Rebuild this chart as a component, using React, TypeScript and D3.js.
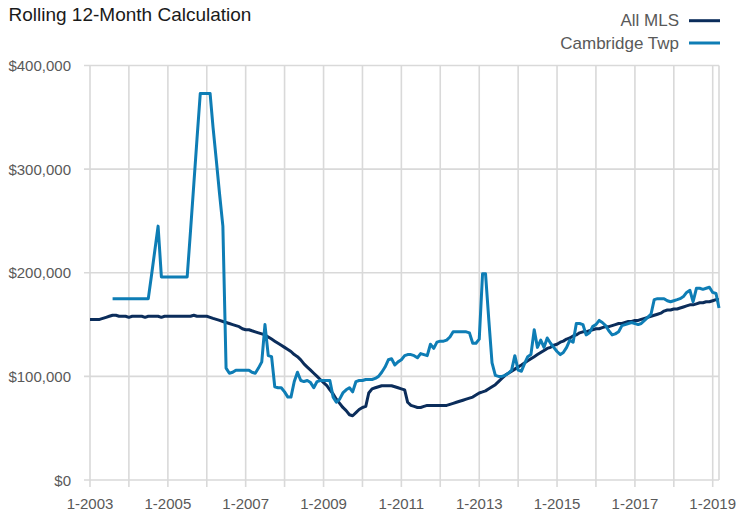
import React from 'react';
import * as d3 from 'd3';

// monthly values in $ thousands, Jan 2003 .. Mar 2019
const allMls: number[] = [
  155, 155, 155, 155, 156, 157, 158, 159, 159, 158, 158, 158, // 2003
  157, 158, 158, 158, 158, 157, 158, 158, 158, 158, 157, 158, // 2004
  158, 158, 158, 158, 158, 158, 158, 158, 159, 158, 158, 158, // 2005
  158, 157, 156, 155, 154, 153, 152, 151, 150, 149, 148, 146, // 2006
  145, 145, 144, 143, 142, 141, 140, 138, 136, 134, 132, 130, // 2007
  128, 126, 124, 121, 119, 116, 112, 109, 106, 103, 100, 97, // 2008
  94, 91, 87, 83, 78, 74, 70, 67, 63, 62, 65, 68, // 2009
  70, 71, 84, 88, 89, 90, 91, 91, 91, 91, 90, 89, // 2010
  88, 87, 75, 72, 71, 70, 70, 71, 72, 72, 72, 72, // 2011
  72, 72, 72, 73, 74, 75, 76, 77, 78, 79, 80, 82, // 2012
  84, 85, 86, 88, 90, 92, 95, 98, 101, 103, 105, 107, // 2013
  109, 111, 113, 115, 117, 119, 121, 123, 125, 127, 128, 130, // 2014
  131, 133, 134, 136, 137, 139, 140, 142, 143, 143, 144, 145, // 2015
  146, 146, 147, 148, 148, 149, 150, 151, 151, 152, 153, 153, // 2016
  154, 154, 155, 156, 157, 158, 159, 160, 161, 163, 164, 164, // 2017
  165, 165, 166, 167, 168, 169, 169, 170, 171, 171, 172, 172, // 2018
  173, 174, 174, // 2019
];

const cambridgeTwp: (number | null)[] = [
  null, null, null, null, null, null, null, 175, 175, 175, 175, 175, // 2003
  175, 175, 175, 175, 175, 175, 175, 198, 222, 245, 196, 196, // 2004
  196, 196, 196, 196, 196, 196, 196, 240, 285, 329, 373, 373, // 2005
  373, 373, 340, 308, 276, 245, 108, 103, 104, 106, 106, 106, // 2006
  106, 106, 104, 103, 108, 114, 150, 120, 119, 90, 89, 89, // 2007
  85, 80, 80, 95, 104, 96, 95, 96, 94, 89, 95, 96, // 2008
  96, 96, 96, 80, 75, 78, 84, 87, 89, 85, 95, 96, // 2009
  96, 97, 97, 97, 98, 100, 104, 109, 116, 117, 111, 114, // 2010
  116, 120, 121, 121, 120, 118, 122, 121, 120, 131, 127, 133, // 2011
  134, 134, 135, 138, 143, 143, 143, 143, 143, 142, 132, 132, // 2012
  136, 199, 199, 154, 113, 101, 100, 100, 101, 103, 106, 120, // 2013
  106, 105, 112, 119, 121, 145, 128, 135, 128, 137, 132, 128, // 2014
  124, 121, 123, 128, 135, 133, 151, 151, 150, 140, 142, 148, // 2015
  150, 154, 152, 149, 144, 140, 141, 143, 149, 150, 151, 152, // 2016
  151, 150, 151, 154, 157, 160, 174, 175, 175, 175, 173, 172, // 2017
  173, 174, 175, 177, 181, 183, 172, 185, 185, 184, 185, 186, // 2018
  181, 180, 166, // 2019
];

const seriesNames = ['All MLS', 'Cambridge Twp'];
const seriesColors = ['#0b2d5b', '#0e7db5'];
const yTicks = [0, 100000, 200000, 300000, 400000];

const App = () => {
  const width = 738, height = 515;
  const left = 90, right = 719, top = 65.5, bottom = 480;

  const start = new Date(2003, 0, 1);
  const months = allMls.map((_, i) => d3.timeMonth.offset(start, i));

  const x = d3.scaleTime()
    .domain([start, months[months.length - 1]])
    .range([left, right]);
  const y = d3.scaleLinear().domain([0, 400000]).range([bottom, top]);

  const years = x.ticks(d3.timeYear.every(1)!);
  const fmtX = d3.timeFormat('%-m-%Y');
  const fmtY = (v: number) => '$' + d3.format(',')(v);

  const line = d3.line<number | null>()
    .defined(d => d != null)
    .x((_, i) => x(months[i]))
    .y(d => y((d as number) * 1000));

  const font = '"Liberation Sans", Arial, sans-serif';

  return (
    <svg width={width} height={height}
      style={{ position: 'absolute', left: 0, top: 0, background: '#fff' }}
      fontFamily={font}>
      <text x={8.5} y={21} fontSize={19} fill="#1a1a1a">Rolling 12-Month Calculation</text>

      {seriesNames.map((name, i) => (
        <g key={name}>
          <text x={679} y={26 + i * 22.5} fontSize={17} fill="#595959" textAnchor="end">{name}</text>
          <line x1={689} x2={720} y1={20.7 + i * 22.3} y2={20.7 + i * 22.3}
            stroke={seriesColors[i]} strokeWidth={3} />
        </g>
      ))}

      {yTicks.map(t => (
        <g key={t}>
          <line x1={84} x2={right} y1={y(t)} y2={y(t)} stroke="#d9d9d9" strokeWidth={1.6} />
          <text x={71} y={y(t) + 5.5} fontSize={15} fill="#595959" textAnchor="end">{fmtY(t)}</text>
        </g>
      ))}

      {years.map((d, i) => (
        <g key={i}>
          <line x1={x(d)} x2={x(d)} y1={top} y2={bottom + 7} stroke="#d9d9d9" strokeWidth={1.6} />
          {i % 2 === 0 && (
            <text x={x(d)} y={509} fontSize={15} fill="#595959" textAnchor="middle">{fmtX(d)}</text>
          )}
        </g>
      ))}
      <line x1={right} x2={right} y1={top} y2={bottom} stroke="#d9d9d9" strokeWidth={1.6} />

      <path d={line(allMls) || ''} fill="none" stroke={seriesColors[0]} strokeWidth={3}
        strokeLinejoin="round" />
      <path d={line(cambridgeTwp) || ''} fill="none" stroke={seriesColors[1]} strokeWidth={3}
        strokeLinejoin="round" />
    </svg>
  );
};

export default App;
